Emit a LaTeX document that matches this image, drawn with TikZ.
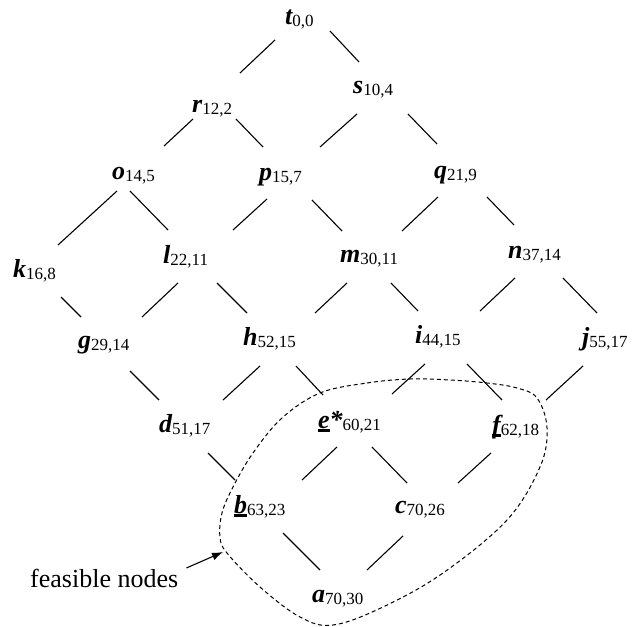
\documentclass[tikz,border=0pt]{standalone}
\usepackage{fontspec}
\setmainfont{Liberation Serif}
\usetikzlibrary{calc,arrows.meta}
\newcommand{\lab}[2]{{\bfseries\itshape #1}\raisebox{-2.5pt}{\fontsize{17}{20}\selectfont #2}}
\newcommand{\uln}[1]{\setbox0=\hbox{#1}\rlap{\raisebox{-3.5pt}{\rule{\wd0}{2.3pt}}}\box0}
\newcommand{\lnkdraw}[6]{\draw[lnk] ($(#1.base west)+(#2,#3)$) -- ($(#4.base west)+(#5,#6)$);}
\begin{document}
\begin{tikzpicture}[x=1pt,y=-1pt,
  vtx/.style={anchor=base west, inner sep=0pt, font=\fontsize{26}{30}\selectfont},
  lnk/.style={line width=1.1pt, line cap=butt},
  region/.style={dash pattern=on 4pt off 3pt, line width=1pt},
  note/.style={anchor=base west, inner sep=0pt, font=\fontsize{26}{30}\selectfont}]
\useasboundingbox (0,0) rectangle (633,627);
% nodes
\node[vtx] (t) at (285,24) {\lab{t}{0,0}};
\node[vtx] (r) at (192,112) {\lab{r}{12,2}};
\node[vtx] (s) at (353,93) {\lab{s}{10,4}};
\node[vtx] (o) at (112,179) {\lab{o}{14,5}};
\node[vtx] (p) at (259,180) {\lab{p}{15,7}};
\node[vtx] (q) at (434,178) {\lab{q}{21,9}};
\node[vtx] (k) at (13,277) {\lab{k}{16,8}};
\node[vtx] (l) at (163,263) {\lab{l}{22,11}};
\node[vtx] (m) at (340,262) {\lab{m}{30,11}};
\node[vtx] (n) at (508,258) {\lab{n}{37,14}};
\node[vtx] (g) at (78,348) {\lab{g}{29,14}};
\node[vtx] (h) at (243,345) {\lab{h}{52,15}};
\node[vtx] (i) at (415,343) {\lab{i}{44,15}};
\node[vtx] (j) at (582,345) {\lab{j}{55,17}};
\node[vtx] (d) at (159,432) {\lab{d}{51,17}};
\node[vtx] (e) at (318,428) {\lab{\uln{e}*}{60,21}};
\node[vtx] (f) at (492,433) {\lab{\uln{f}}{62,18}};
\node[vtx] (b) at (234,513) {\lab{\uln{b}}{63,23}};
\node[vtx] (c) at (395,513) {\lab{c}{70,26}};
\node[vtx] (a) at (312,602) {\lab{a}{70,30}};
\node[note] (fn) at (30,587) {feasible nodes};
% connectors
\lnkdraw{t}{-10}{16}{r}{48}{-39}
\lnkdraw{t}{45}{7}{s}{6}{-31}
\lnkdraw{r}{1}{7}{o}{52}{-33}
\lnkdraw{r}{44}{7}{p}{4}{-33}
\lnkdraw{s}{4}{21}{p}{61}{-33}
\lnkdraw{s}{55}{21}{q}{3}{-34}
\lnkdraw{o}{5}{12}{k}{45}{-32}
\lnkdraw{o}{18}{12}{l}{5}{-33}
\lnkdraw{p}{8}{19}{l}{70}{-33}
\lnkdraw{p}{53}{20}{m}{2}{-31}
\lnkdraw{q}{4}{19}{m}{62}{-31}
\lnkdraw{q}{53}{19}{n}{6}{-33}
\lnkdraw{k}{48}{20}{g}{3}{-31}
\lnkdraw{l}{15}{20}{g}{64}{-31}
\lnkdraw{l}{54}{20}{h}{4}{-32}
\lnkdraw{m}{7}{21}{h}{72}{-32}
\lnkdraw{m}{51}{21}{i}{3}{-32}
\lnkdraw{n}{7}{20}{i}{65}{-32}
\lnkdraw{n}{55}{20}{j}{15}{-32}
\lnkdraw{g}{52}{23}{d}{0}{-32}
\lnkdraw{h}{17}{21}{d}{64}{-32}
\lnkdraw{h}{53}{21}{e}{5}{-33}
\lnkdraw{i}{10}{21}{e}{74}{-34}
\lnkdraw{i}{52}{21}{f}{10}{-33}
\lnkdraw{j}{1}{21}{f}{54}{-33}
\lnkdraw{d}{49}{21}{b}{1}{-33}
\lnkdraw{e}{19}{19}{b}{68}{-33}
\lnkdraw{e}{54}{19}{c}{12}{-30}
\lnkdraw{f}{-1}{20}{c}{63}{-30}
\lnkdraw{b}{49}{20}{a}{8}{-32}
\lnkdraw{c}{8}{23}{a}{55}{-32}
% feasible region
\draw[region] plot[smooth cycle, tension=0.6] coordinates {
  (320,393) (367,383) (410,379) (450,380) (487,383) (517,388) (537,398)
  (547,428) (540,467) (507,520) (443,573) (383,607) (333,625) (300,617)
  (260,587) (227,553) (220,537) (222,513) (233,487) (253,453) (282,418)};
\coordinate (tip) at (223,552);
\draw[line width=1.1pt, -{Latex[length=11pt,width=8pt]}] ($(fn.base east)+(8,-19)$) -- (tip);
\end{tikzpicture}
\end{document}
